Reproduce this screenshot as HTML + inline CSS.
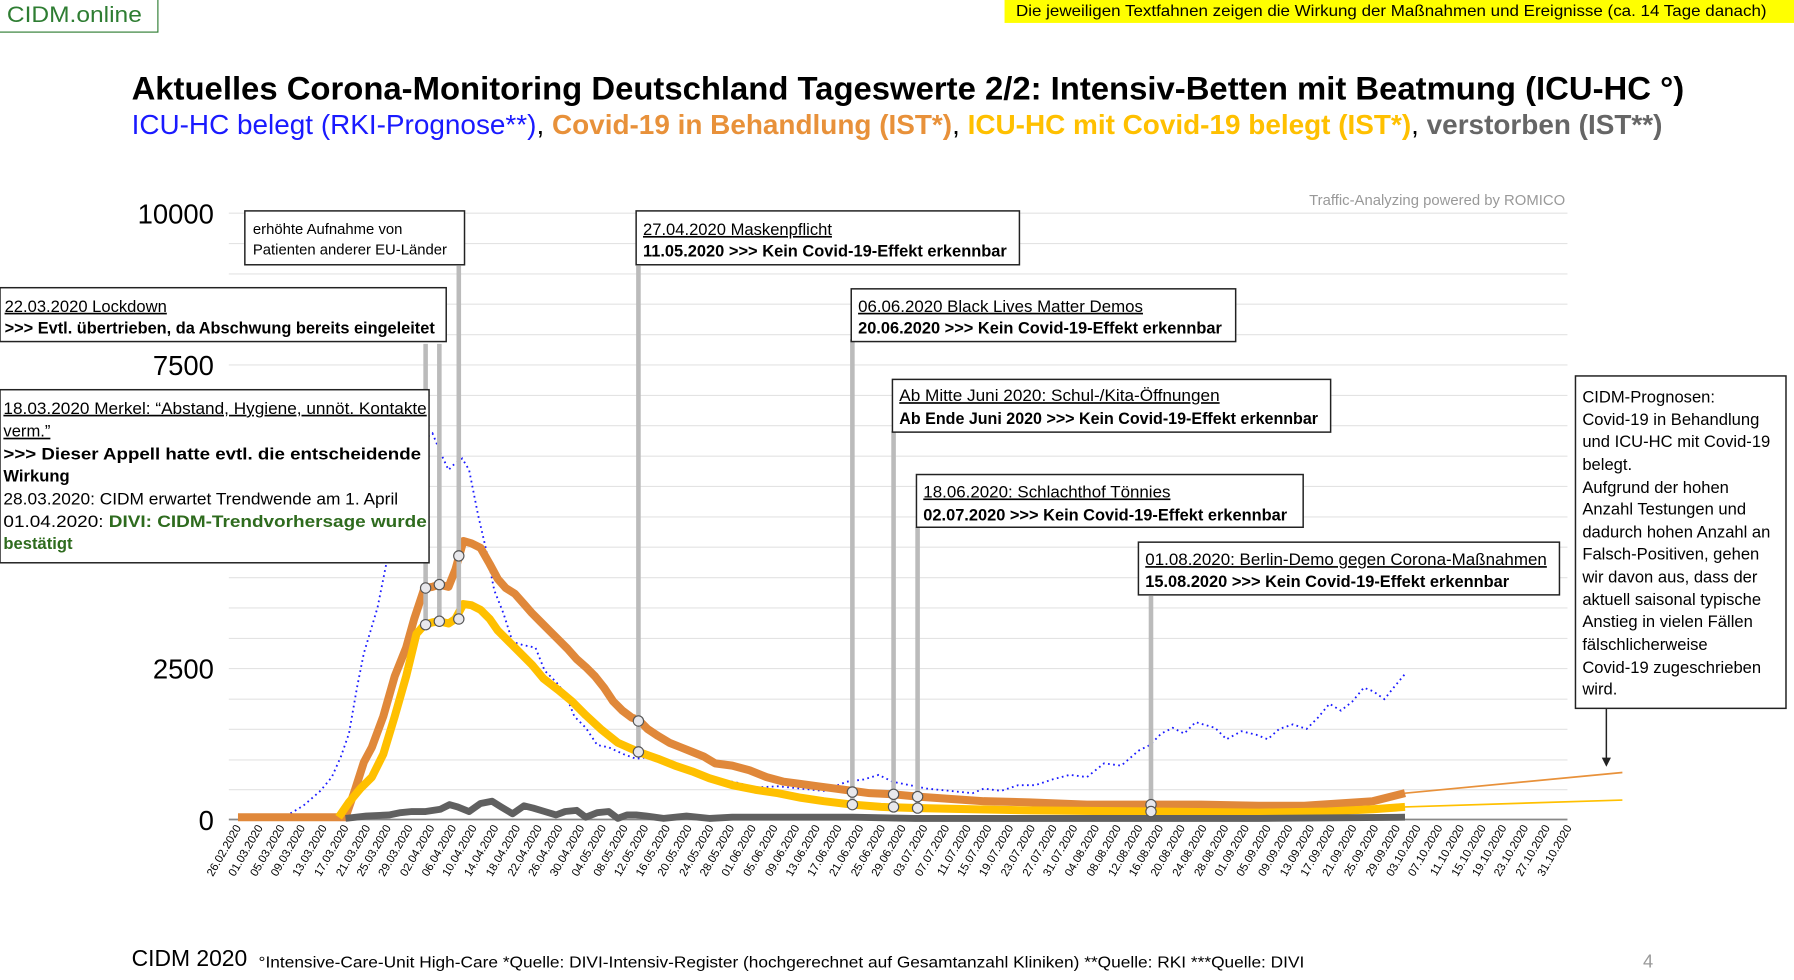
<!DOCTYPE html>
<html><head><meta charset="utf-8"><style>
html,body{margin:0;padding:0;background:#fff;overflow:hidden}
svg{display:block}
text{font-family:"Liberation Sans",sans-serif}
</style></head><body>
<svg width="1794" height="980" viewBox="0 0 1568 855" preserveAspectRatio="none" xmlns="http://www.w3.org/2000/svg">
<rect width="1568" height="855" fill="#fff"/>
<rect x="-1" y="-1" width="139" height="29" fill="#fff" stroke="#2e7d32" stroke-width="1"/>
<text x="6" y="19" font-size="19" fill="#2e7d32" textLength="118" lengthAdjust="spacingAndGlyphs">CIDM.online</text>
<rect x="878" y="0" width="690" height="20" fill="#ffff00"/>
<text x="888" y="14" font-size="13.5" fill="#000" textLength="656" lengthAdjust="spacingAndGlyphs">Die jeweiligen Textfahnen zeigen die Wirkung der Maßnahmen und Ereignisse (ca. 14 Tage danach)</text>
<text x="115" y="87" font-size="28" font-weight="bold" fill="#000" textLength="1357" lengthAdjust="spacingAndGlyphs">Aktuelles Corona-Monitoring Deutschland Tageswerte 2/2: Intensiv-Betten mit Beatmung (ICU-HC °)</text>
<text x="115" y="117" font-size="24" textLength="1338" lengthAdjust="spacingAndGlyphs"><tspan fill="#1a1aff">ICU-HC belegt (RKI-Prognose**)</tspan><tspan fill="#000">, </tspan><tspan fill="#e8913a" font-weight="bold">Covid-19 in Behandlung (IST*)</tspan><tspan fill="#000">, </tspan><tspan fill="#ffc000" font-weight="bold">ICU-HC mit Covid-19 belegt (IST*)</tspan><tspan fill="#000">, </tspan><tspan fill="#666" font-weight="bold">verstorben (IST**)</tspan></text>
<text x="1368" y="179" font-size="13" fill="#999" text-anchor="end">Traffic-Analyzing powered by ROMICO</text>
<g stroke="#e3e3e3" stroke-width="1">
<line x1="200" x2="1370" y1="186" y2="186"/><line x1="200" x2="1370" y1="212.5" y2="212.5"/><line x1="200" x2="1370" y1="239" y2="239"/><line x1="200" x2="1370" y1="265.4" y2="265.4"/><line x1="200" x2="1370" y1="292" y2="292"/><line x1="200" x2="1370" y1="318.4" y2="318.4"/><line x1="200" x2="1370" y1="345" y2="345"/><line x1="200" x2="1370" y1="371.4" y2="371.4"/><line x1="200" x2="1370" y1="398" y2="398"/><line x1="200" x2="1370" y1="424.4" y2="424.4"/><line x1="200" x2="1370" y1="451" y2="451"/><line x1="200" x2="1370" y1="477.4" y2="477.4"/><line x1="200" x2="1370" y1="504" y2="504"/><line x1="200" x2="1370" y1="530.4" y2="530.4"/><line x1="200" x2="1370" y1="557" y2="557"/><line x1="200" x2="1370" y1="583.3" y2="583.3"/><line x1="200" x2="1370" y1="610" y2="610"/><line x1="200" x2="1370" y1="636.3" y2="636.3"/><line x1="200" x2="1370" y1="663" y2="663"/><line x1="200" x2="1370" y1="689" y2="689"/>
</g>
<line x1="200" x2="1370" y1="715" y2="715" stroke="#888" stroke-width="1.5"/>
<g font-size="24" fill="#000" text-anchor="end">
<text x="187" y="195">10000</text><text x="187" y="327">7500</text><text x="187" y="592">2500</text><text x="187" y="724">0</text>
</g>
<g font-size="10" fill="#000" text-anchor="end">
<text transform="translate(211,722) rotate(-60)">26.02.2020</text><text transform="translate(230,722) rotate(-60)">01.03.2020</text><text transform="translate(249,722) rotate(-60)">05.03.2020</text><text transform="translate(267,722) rotate(-60)">09.03.2020</text><text transform="translate(286,722) rotate(-60)">13.03.2020</text><text transform="translate(305,722) rotate(-60)">17.03.2020</text><text transform="translate(324,722) rotate(-60)">21.03.2020</text><text transform="translate(342,722) rotate(-60)">25.03.2020</text><text transform="translate(361,722) rotate(-60)">29.03.2020</text><text transform="translate(380,722) rotate(-60)">02.04.2020</text><text transform="translate(399,722) rotate(-60)">06.04.2020</text><text transform="translate(417,722) rotate(-60)">10.04.2020</text><text transform="translate(436,722) rotate(-60)">14.04.2020</text><text transform="translate(455,722) rotate(-60)">18.04.2020</text><text transform="translate(474,722) rotate(-60)">22.04.2020</text><text transform="translate(492,722) rotate(-60)">26.04.2020</text><text transform="translate(511,722) rotate(-60)">30.04.2020</text><text transform="translate(530,722) rotate(-60)">04.05.2020</text><text transform="translate(549,722) rotate(-60)">08.05.2020</text><text transform="translate(567,722) rotate(-60)">12.05.2020</text><text transform="translate(586,722) rotate(-60)">16.05.2020</text><text transform="translate(605,722) rotate(-60)">20.05.2020</text><text transform="translate(624,722) rotate(-60)">24.05.2020</text><text transform="translate(642,722) rotate(-60)">28.05.2020</text><text transform="translate(661,722) rotate(-60)">01.06.2020</text><text transform="translate(680,722) rotate(-60)">05.06.2020</text><text transform="translate(699,722) rotate(-60)">09.06.2020</text><text transform="translate(717,722) rotate(-60)">13.06.2020</text><text transform="translate(736,722) rotate(-60)">17.06.2020</text><text transform="translate(755,722) rotate(-60)">21.06.2020</text><text transform="translate(774,722) rotate(-60)">25.06.2020</text><text transform="translate(792,722) rotate(-60)">29.06.2020</text><text transform="translate(811,722) rotate(-60)">03.07.2020</text><text transform="translate(830,722) rotate(-60)">07.07.2020</text><text transform="translate(849,722) rotate(-60)">11.07.2020</text><text transform="translate(867,722) rotate(-60)">15.07.2020</text><text transform="translate(886,722) rotate(-60)">19.07.2020</text><text transform="translate(905,722) rotate(-60)">23.07.2020</text><text transform="translate(924,722) rotate(-60)">27.07.2020</text><text transform="translate(942,722) rotate(-60)">31.07.2020</text><text transform="translate(961,722) rotate(-60)">04.08.2020</text><text transform="translate(980,722) rotate(-60)">08.08.2020</text><text transform="translate(999,722) rotate(-60)">12.08.2020</text><text transform="translate(1017,722) rotate(-60)">16.08.2020</text><text transform="translate(1036,722) rotate(-60)">20.08.2020</text><text transform="translate(1055,722) rotate(-60)">24.08.2020</text><text transform="translate(1074,722) rotate(-60)">28.08.2020</text><text transform="translate(1092,722) rotate(-60)">01.09.2020</text><text transform="translate(1111,722) rotate(-60)">05.09.2020</text><text transform="translate(1130,722) rotate(-60)">09.09.2020</text><text transform="translate(1149,722) rotate(-60)">13.09.2020</text><text transform="translate(1167,722) rotate(-60)">17.09.2020</text><text transform="translate(1186,722) rotate(-60)">21.09.2020</text><text transform="translate(1205,722) rotate(-60)">25.09.2020</text><text transform="translate(1224,722) rotate(-60)">29.09.2020</text><text transform="translate(1242,722) rotate(-60)">03.10.2020</text><text transform="translate(1261,722) rotate(-60)">07.10.2020</text><text transform="translate(1280,722) rotate(-60)">11.10.2020</text><text transform="translate(1299,722) rotate(-60)">15.10.2020</text><text transform="translate(1317,722) rotate(-60)">19.10.2020</text><text transform="translate(1336,722) rotate(-60)">23.10.2020</text><text transform="translate(1355,722) rotate(-60)">27.10.2020</text><text transform="translate(1374,722) rotate(-60)">31.10.2020</text>
</g>
<line x1="1228" y1="692" x2="1418" y2="674" stroke="#e8913a" stroke-width="1.5"/>
<line x1="1228" y1="704" x2="1418" y2="698" stroke="#ffc000" stroke-width="1.5"/>
<polyline fill="none" stroke="#1a1aff" stroke-width="1.6" stroke-dasharray="1.5 3" points="250,712 265,703 280,690 290,678 298,660 305,640 312,600 318,570 324,550 330,530 336,500 342,470 350,440 360,410 368,385 378,378 385,395 392,410 398,404 404,400 410,410 418,450 425,480 432,515 440,535 448,560 458,563 468,565 476,585 486,595 494,605 502,625 512,635 522,650 532,652 545,658 556,662 570,660 585,665 600,672 615,676 630,680 645,683 660,687 680,686 700,688 720,690 740,682 755,680 768,676 780,682 795,685 810,688 830,690 850,692 860,688 875,690 890,685 905,685 920,680 935,676 950,678 965,666 980,668 995,655 1005,650 1015,640 1025,635 1035,640 1045,630 1055,633 1062,635 1072,645 1085,638 1098,641 1108,645 1118,636 1130,632 1142,636 1152,626 1162,614 1172,620 1182,612 1192,600 1200,603 1210,610 1218,600 1228,588"/>
<polyline fill="none" stroke="#e0883a" stroke-width="7" stroke-linejoin="round" points="208,713 302,713 310,690 318,665 325,652 335,625 345,590 355,565 362,540 371,513 378,512 384,510 392,512 398,497 405,472 412,474 420,478 428,492 435,505 442,513 450,518 458,527 465,535 472,542 480,550 488,558 496,566 504,575 512,582 520,590 528,600 536,612 544,620 552,626 558,628 566,636 575,642 585,648 595,652 605,656 615,660 625,666 640,668 655,672 670,678 685,682 700,684 715,686 730,688 745,690 760,692 781,693 802,695 830,697 860,699 900,700 950,702 1006,702 1050,702 1100,703 1140,703 1170,701 1200,699 1228,692"/>
<polyline fill="none" stroke="#ffc000" stroke-width="7" stroke-linejoin="round" points="296,713 305,700 315,688 325,678 335,658 345,625 355,590 364,553 371,545 378,543 384,542 392,544 398,540 405,527 412,528 420,532 428,540 435,550 445,560 455,570 465,580 475,592 488,602 500,612 512,624 525,636 540,648 558,656 575,662 590,668 605,673 620,679 640,685 660,689 680,692 700,696 720,699 745,702 770,704 802,705 850,706 900,707 1006,708 1100,709 1160,708 1200,706 1228,704"/>
<polyline fill="none" stroke="#606060" stroke-width="6" stroke-linejoin="round" points="302,714 320,712 340,711 350,709 360,708 372,708 385,706 393,702 400,704 410,708 420,701 430,699 438,704 448,710 458,703 466,705 476,708 486,711 494,708 504,707 512,713 522,709 532,708 540,714 548,711 556,711 565,712 580,714 600,712 620,714 640,713 660,713 700,713 745,713 800,714 900,714 1006,714 1100,714 1228,713"/>
<g stroke="#bbb" stroke-width="4">
<line x1="372" y1="300" x2="372" y2="545"/><line x1="384" y1="300" x2="384" y2="542"/><line x1="401" y1="232" x2="401" y2="540"/><line x1="558" y1="232" x2="558" y2="656"/><line x1="745" y1="296" x2="745" y2="702"/><line x1="781" y1="376" x2="781" y2="704"/><line x1="802" y1="460" x2="802" y2="705"/><line x1="1006" y1="520" x2="1006" y2="708"/>
</g>
<g fill="#e8e8ec" stroke="#555" stroke-width="1">
<circle cx="372" cy="513" r="4.5"/><circle cx="372" cy="545" r="4.5"/><circle cx="384" cy="510" r="4.5"/><circle cx="384" cy="542" r="4.5"/><circle cx="401" cy="485" r="4.5"/><circle cx="401" cy="540" r="4.5"/><circle cx="558" cy="629" r="4.5"/><circle cx="558" cy="656" r="4.5"/><circle cx="745" cy="691" r="4.5"/><circle cx="745" cy="702" r="4.5"/><circle cx="781" cy="693" r="4.5"/><circle cx="781" cy="704" r="4.5"/><circle cx="802" cy="695" r="4.5"/><circle cx="802" cy="705" r="4.5"/><circle cx="1006" cy="702" r="4.5"/><circle cx="1006" cy="708" r="4.5"/>
</g>
<g stroke="#222" stroke-width="1.3" fill="#fff">
<rect x="214" y="184" width="192" height="47"/>
<rect x="0" y="251" width="390" height="47"/>
<rect x="0" y="340" width="375" height="151"/>
<rect x="556" y="184" width="335" height="47"/>
<rect x="744" y="252" width="336" height="46"/>
<rect x="780" y="331" width="383" height="46"/>
<rect x="801" y="414" width="338" height="46"/>
<rect x="995" y="473" width="368" height="46"/>
<rect x="1377" y="328" width="184" height="290"/>
</g>
<g font-size="13" fill="#000">
<text x="221" y="204">erhöhte Aufnahme von</text>
<text x="221" y="222">Patienten anderer EU-Länder</text>
<text x="4" y="272" font-size="14.5" text-decoration="underline">22.03.2020 Lockdown</text>
<text x="4" y="291" font-size="14.5" font-weight="bold" textLength="376" lengthAdjust="spacingAndGlyphs">&gt;&gt;&gt; Evtl. übertrieben, da Abschwung bereits eingeleitet</text>
<g font-size="14.5">
<text x="3" y="361" text-decoration="underline" textLength="370" lengthAdjust="spacingAndGlyphs">18.03.2020 Merkel: “Abstand, Hygiene, unnöt. Kontakte</text>
<text x="3" y="381" text-decoration="underline">verm.”</text>
<text x="3" y="401" font-weight="bold" textLength="365" lengthAdjust="spacingAndGlyphs">&gt;&gt;&gt; Dieser Appell hatte evtl. die entscheidende</text>
<text x="3" y="420" font-weight="bold">Wirkung</text>
<text x="3" y="440" textLength="345" lengthAdjust="spacingAndGlyphs">28.03.2020: CIDM erwartet Trendwende am 1. April</text>
<text x="3" y="460" textLength="370" lengthAdjust="spacingAndGlyphs">01.04.2020: <tspan fill="#2e6b1e" font-weight="bold">DIVI: CIDM-Trendvorhersage wurde</tspan></text>
<text x="3" y="479" fill="#2e6b1e" font-weight="bold">bestätigt</text>
<text x="562" y="205" text-decoration="underline">27.04.2020 Maskenpflicht</text>
<text x="562" y="224" font-weight="bold" textLength="318" lengthAdjust="spacingAndGlyphs">11.05.2020 &gt;&gt;&gt; Kein Covid-19-Effekt erkennbar</text>
<text x="750" y="272" text-decoration="underline" textLength="249" lengthAdjust="spacingAndGlyphs">06.06.2020 Black Lives Matter Demos</text>
<text x="750" y="291" font-weight="bold" textLength="318" lengthAdjust="spacingAndGlyphs">20.06.2020 &gt;&gt;&gt; Kein Covid-19-Effekt erkennbar</text>
<text x="786" y="350" text-decoration="underline" textLength="280" lengthAdjust="spacingAndGlyphs">Ab Mitte Juni 2020: Schul-/Kita-Öffnungen</text>
<text x="786" y="370" font-weight="bold" textLength="366" lengthAdjust="spacingAndGlyphs">Ab Ende Juni 2020 &gt;&gt;&gt; Kein Covid-19-Effekt erkennbar</text>
<text x="807" y="434" text-decoration="underline" textLength="216" lengthAdjust="spacingAndGlyphs">18.06.2020: Schlachthof Tönnies</text>
<text x="807" y="454" font-weight="bold" textLength="318" lengthAdjust="spacingAndGlyphs">02.07.2020 &gt;&gt;&gt; Kein Covid-19-Effekt erkennbar</text>
<text x="1001" y="493" text-decoration="underline" textLength="351" lengthAdjust="spacingAndGlyphs">01.08.2020: Berlin-Demo gegen Corona-Maßnahmen</text>
<text x="1001" y="512" font-weight="bold" textLength="318" lengthAdjust="spacingAndGlyphs">15.08.2020 &gt;&gt;&gt; Kein Covid-19-Effekt erkennbar</text>
</g>
<g font-size="14.5">
<text x="1383" y="351">CIDM-Prognosen:</text>
<text x="1383" y="371">Covid-19 in Behandlung</text>
<text x="1383" y="390">und ICU-HC mit Covid-19</text>
<text x="1383" y="410">belegt.</text>
<text x="1383" y="430">Aufgrund der hohen</text>
<text x="1383" y="449">Anzahl Testungen und</text>
<text x="1383" y="469">dadurch hohen Anzahl an</text>
<text x="1383" y="488">Falsch-Positiven, gehen</text>
<text x="1383" y="508">wir davon aus, dass der</text>
<text x="1383" y="528">aktuell saisonal typische</text>
<text x="1383" y="547">Anstieg in vielen Fällen</text>
<text x="1383" y="567">fälschlicherweise</text>
<text x="1383" y="587">Covid-19 zugeschrieben</text>
<text x="1383" y="606">wird.</text>
</g>
</g>
<line x1="1404" y1="618" x2="1404" y2="662" stroke="#222" stroke-width="1.3"/>
<polygon points="1400,661 1408,661 1404,669" fill="#222"/>
<text x="115" y="843" font-size="20" fill="#000">CIDM 2020</text>
<text x="226" y="844" font-size="14" fill="#000" textLength="914" lengthAdjust="spacingAndGlyphs">°Intensive-Care-Unit High-Care  *Quelle: DIVI-Intensiv-Register (hochgerechnet auf Gesamtanzahl Kliniken)  **Quelle: RKI  ***Quelle: DIVI</text>
<text x="1436" y="844" font-size="16" fill="#999">4</text>
</svg>
</body></html>
